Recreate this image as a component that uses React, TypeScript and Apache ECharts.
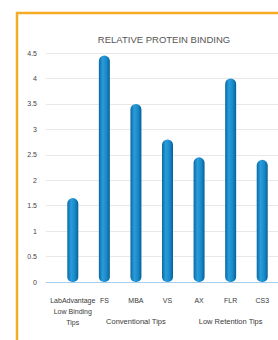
import React, { useEffect, useRef } from "react";
import * as echarts from "echarts";

const categories = ["LabAdvantage\nLow Binding\nTips", "FS", "MBA", "VS", "AX", "FLR", "CS3"];
const values = [1.65, 4.45, 3.5, 2.8, 2.45, 4.0, 2.4];
const groups = [
  { name: "Conventional Tips", from: 1, to: 3 },
  { name: "Low Retention Tips", from: 4, to: 6 },
];
const title = "RELATIVE PROTEIN BINDING";

export default function App() {
  const ref = useRef<HTMLDivElement>(null);
  useEffect(() => {
    if (!ref.current) return;
    const chart = echarts.init(ref.current, undefined, { renderer: "svg" });
    const font = "Liberation Sans";
    const barColor = new echarts.graphic.LinearGradient(0, 0, 1, 0, [
      { offset: 0, color: "#0a6aa3" },
      { offset: 0.35, color: "#2b9cdb" },
      { offset: 0.7, color: "#1788c8" },
      { offset: 1, color: "#0a5f94" },
    ]);
    chart.setOption({
      animation: false,
      backgroundColor: "#ffffff",
      textStyle: { fontFamily: font },
      grid: [
        { left: 46, top: 53, width: 235, height: 229 },
        { left: 57, top: 53, width: 224, height: 229 },
      ],
      xAxis: [
        {
          gridIndex: 0,
          type: "value",
          min: 0,
          max: 1,
          axisLine: { show: true, lineStyle: { color: "#a8cdea", width: 1 } },
          axisTick: { show: false },
          axisLabel: { show: false },
          splitLine: { show: false },
        },
        {
          gridIndex: 1,
          type: "category",
          data: categories,
          axisLine: { show: false },
          axisTick: { show: false },
          axisLabel: {
            interval: 0,
            fontSize: 7,
            color: "#3a3a3a",
            lineHeight: 11,
            margin: 13,
            fontFamily: font,
          },
        },
      ],
      yAxis: [
        {
          gridIndex: 0,
          type: "value",
          min: 0,
          max: 4.5,
          interval: 0.5,
          axisLine: { show: false },
          axisTick: { show: false },
          axisLabel: { fontSize: 7, color: "#444", margin: 9, fontFamily: font },
          splitLine: { lineStyle: { color: "#e8e8e8", width: 1 } },
        },
        {
          gridIndex: 1,
          type: "value",
          min: 0,
          max: 4.5,
          interval: 0.5,
          show: false,
        },
      ],
      series: [
        {
          type: "bar",
          xAxisIndex: 1,
          yAxisIndex: 1,
          data: values,
          barWidth: 11,
          itemStyle: { color: barColor, borderRadius: [5.5, 5.5, 5, 5] },
        },
      ],
    });
    const y = 321;
    const texts = groups.map((g) => {
      const a = chart.convertToPixel({ xAxisIndex: 1 }, g.from) as number;
      const b = chart.convertToPixel({ xAxisIndex: 1 }, g.to) as number;
      return {
        type: "text",
        x: (a + b) / 2,
        y,
        style: {
          text: g.name,
          fontSize: 7.5,
          fill: "#3a3a3a",
          fontFamily: font,
          align: "center",
          verticalAlign: "middle",
        },
      };
    });
    chart.setOption({
      graphic: [
        {
          type: "rect",
          shape: { x: 17, y: 13, width: 320, height: 400 },
          style: { fill: "none", stroke: "#f4ac25", lineWidth: 2.5 },
          silent: true,
        },
        {
          type: "text",
          x: 164,
          y: 39,
          style: {
            text: title,
            fontSize: 9.5,
            fill: "#555",
            fontFamily: font,
            align: "center",
            verticalAlign: "middle",
          },
        },
        ...texts,
      ],
    });
    return () => chart.dispose();
  }, []);
  return (
    <div
      ref={ref}
      style={{ position: "fixed", left: 0, top: 0, width: 278, height: 340 }}
    />
  );
}
